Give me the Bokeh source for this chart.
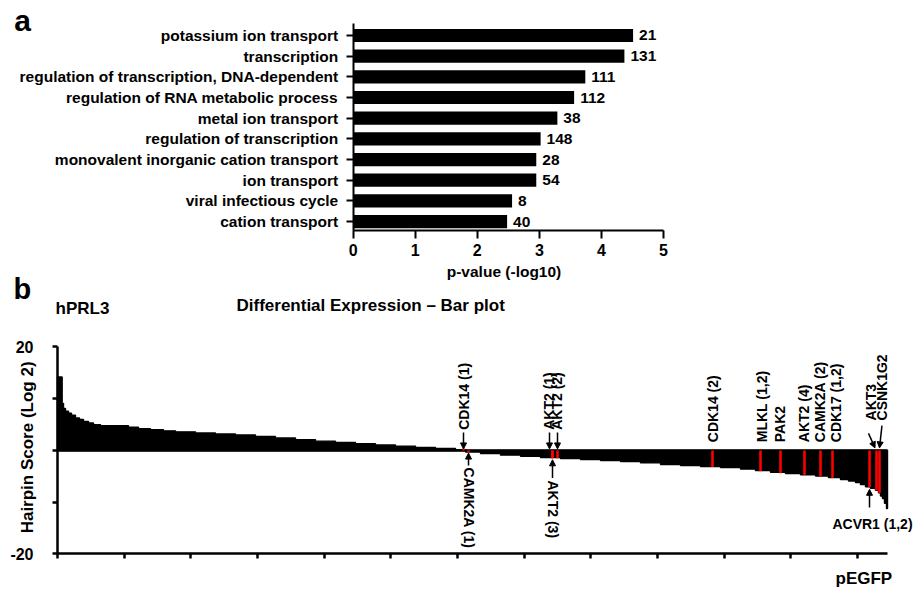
import math
from bokeh.plotting import figure
from bokeh.models import (ColumnDataSource, FixedTicker, Label, Arrow, NormalHead,
                          Range1d, LinearAxis)
from bokeh.embed import file_html
from bokeh.resources import INLINE
from bokeh.core.properties import value

FONT = "Liberation Sans"

# ---------------- Panel a data ----------------
go_terms = [
    "potassium ion transport",
    "transcription",
    "regulation of transcription, DNA-dependent",
    "regulation of RNA metabolic process",
    "metal ion transport",
    "regulation of transcription",
    "monovalent inorganic cation transport",
    "ion transport",
    "viral infectious cycle",
    "cation transport",
]
go_pvalue = [4.51, 4.37, 3.74, 3.56, 3.29, 3.02, 2.95, 2.95, 2.56, 2.48]
go_counts = [21, 131, 111, 112, 38, 148, 28, 54, 8, 40]
pvalue_ticks = [0, 1, 2, 3, 4, 5]

# ---------------- Panel b data ----------------
n_hairpins = 12450
hairpin_rank = [0, 70, 90, 120, 165, 210, 270, 330, 390, 465,
                540, 645, 1065, 1215, 1395, 1590, 1770, 2070, 2370, 2670,
                2970, 3270, 3570, 3870, 4170, 4470, 4770, 5070, 5370, 5670,
                5970, 6120, 6345, 6645, 6945, 7245, 7545, 7845, 8145, 8445,
                8745, 9045, 9345, 9645, 9945, 10245, 10470, 10695, 10920, 11145,
                11370, 11565, 11745, 11865, 11970, 12045, 12120, 12195, 12270, 12315,
                12345, 12375, 12405, 12435]
hairpin_score = [14.2, 9.1, 8.1, 7.6, 7.2, 6.8, 6.3, 6.0, 5.6, 5.3,
                 5.0, 4.8, 4.5, 4.2, 4.0, 3.8, 3.6, 3.4, 3.2, 3.0,
                 2.7, 2.4, 2.1, 1.8, 1.55, 1.3, 1.05, 0.85, 0.6, 0.4,
                 0.15, -0.3, -0.6, -0.9, -1.1, -1.35, -1.55, -1.75, -1.95, -2.15,
                 -2.4, -2.7, -2.9, -3.1, -3.3, -3.6, -3.9, -4.2, -4.45, -4.7,
                 -4.95, -5.25, -5.6, -5.9, -6.2, -6.6, -7.0, -7.3, -7.7, -8.2,
                 -8.8, -9.3, -10.2, -11.2]
rank_ticks = [0, 1000, 2000, 3000, 4000, 5000, 6000, 7000, 8000, 9000, 10000, 11000, 12000]
score_ticks = [-20, -10, 0, 10, 20]
score_tick_labels = {-20: "-20", -10: "", 0: "", 10: "", 20: "20"}

hit_genes = ["CDK14 (1)", "CAMK2A (1)", "AKT2 (1)", "AKT2 (2)", "AKT2 (3)",
             "CDK14 (2)", "MLKL (1,2)", "PAK2", "AKT2 (4)", "CAMK2A (2)",
             "CDK17 (1,2)", "ACVR1 (1,2)", "AKT3", "CSNK1G2"]
hit_rank = [6090, 6165, 7425, 7500, 7425,
            9825, 10545, 10845, 11205, 11445,
            11625, 12180, 12285, 12330]
hit_score = [0.4, -0.4, -1.5, -1.5, -1.5,
             -3.2, -4.0, -4.4, -4.7, -5.0,
             -5.3, -7.1, -7.7, -8.2]


def style_axis(ax, size, width):
    ax.axis_line_color = "black"
    ax.axis_line_width = width
    ax.major_tick_line_color = "black"
    ax.major_tick_line_width = width
    ax.major_tick_in = 0
    ax.minor_tick_line_color = None
    ax.major_label_text_font = FONT
    ax.major_label_text_font_style = "bold"
    ax.major_label_text_font_size = size
    ax.major_label_text_color = "black"


# One canvas; panel b uses the default ranges, panel a uses extra ranges "ax"/"ay".
p = figure(width=919, height=594,
           x_range=Range1d(-855, 12930), y_range=Range1d(-27.83, 86.96),
           x_axis_location=None, y_axis_location=None,
           output_backend="svg", toolbar_location=None, min_border=0)
p.outline_line_color = None
p.grid.visible = False
p.background_fill_color = "white"
p.border_fill_color = "white"
p.extra_x_ranges = {"ax": Range1d(-5.683, 9.125)}
p.extra_y_ranges = {"ay": Range1d(-18.044, 10.693)}
A = dict(x_range_name="ax", y_range_name="ay")

# ================= Panel a =================
a_ylo, a_yhi = -0.435, 9.58
pos = [len(go_terms) - 1 - i for i in range(len(go_terms))]
src_a = ColumnDataSource(dict(y=pos, p=go_pvalue, n=[str(c) for c in go_counts], term=go_terms))
p.hbar(y="y", left=0, right="p", height=0.64, source=src_a, fill_color="black", line_color=None, **A)
p.text(x="p", y="y", text="n", source=src_a, x_offset=6, text_align="left", text_baseline="middle",
       text_font=value(FONT), text_font_style="bold", text_font_size="15.5px", text_color="black", **A)

ya = LinearAxis(fixed_location=0, bounds=(a_ylo, a_yhi), ticker=FixedTicker(ticks=pos), **A)
style_axis(ya, "15.5px", 2)
ya.major_label_overrides = {y: t for y, t in zip(pos, go_terms)}
ya.major_tick_out = 7
ya.major_label_standoff = 8
p.add_layout(ya, "left")

xa = LinearAxis(fixed_location=a_ylo, bounds=(0, 5), ticker=FixedTicker(ticks=pvalue_ticks), **A)
style_axis(xa, "16px", 2)
xa.major_tick_out = 8
xa.major_label_standoff = 5
p.add_layout(xa, "below")

mid = dict(text_font=FONT, text_font_style="bold", text_color="black", text_baseline="middle")
p.add_layout(Label(x=-5.46, y=9.745, text="a", text_font_size="30px", **mid, **A))
p.add_layout(Label(x=2.43, y=-2.42, text="p-value (-log10)", text_font_size="15.5px",
                   text_align="center", **mid, **A))

# ================= Panel b =================
p.segment(x0=[0], x1=[n_hairpins], y0=[0], y1=[0], line_color="black", line_width=2.5)

rank_end = hairpin_rank[1:] + [n_hairpins]
src_b = ColumnDataSource(dict(left=hairpin_rank, right=rank_end, top=hairpin_score))
p.quad(left="left", right="right", bottom=0, top="top", source=src_b,
       fill_color="black", line_color="black", line_width=1.4)

src_hit = ColumnDataSource(dict(x=hit_rank, s=hit_score, g=hit_genes))
p.vbar(x="x", width=38, top=0, bottom="s", source=src_hit, fill_color="#ff0000", line_color=None)

yb = LinearAxis(fixed_location=0, bounds=(-20, 20), ticker=FixedTicker(ticks=score_ticks))
style_axis(yb, "16px", 2.5)
yb.major_label_overrides = score_tick_labels
yb.major_tick_out = 5
yb.major_label_standoff = 19
p.add_layout(yb, "left")

xb = LinearAxis(fixed_location=-20, bounds=(0, n_hairpins), ticker=FixedTicker(ticks=rank_ticks))
style_axis(xb, "16px", 2.5)
xb.major_label_overrides = {t: "" for t in rank_ticks}
xb.major_tick_out = 5
p.add_layout(xb, "below")

# gene labels (annotation layout)
g = dict(zip(hit_genes, hit_rank))
up_text = ["CDK14 (1)", "AKT2 (1)", "AKT2 (2)", "CDK14 (2)", "MLKL (1,2)", "PAK2",
           "AKT2 (4)", "CAMK2A (2)", "CDK17 (1,2)", "AKT3", "CSNK1G2"]
up_x = [g["CDK14 (1)"], g["AKT2 (1)"] - 60, g["AKT2 (2)"] - 15, g["CDK14 (2)"], g["MLKL (1,2)"] + 15,
        g["PAK2"] - 15, g["AKT2 (4)"] - 15, g["CAMK2A (2)"] - 15, g["CDK17 (1,2)"] + 45,
        g["AKT3"] - 90, g["CSNK1G2"] + 30]
up_y = [4.0, 4.0, 4.0, 1.6, 1.6, 1.6, 1.6, 1.6, 1.6, 5.8, 5.8]
src_up = ColumnDataSource(dict(x=up_x, y=up_y, t=up_text))
p.text(x="x", y="y", text="t", source=src_up, angle=math.pi / 2, text_align="left",
       text_baseline="middle", text_font=value(FONT), text_font_style="bold",
       text_font_size="14px", text_color="black")

dn_text = ["CAMK2A (1)", "AKT2 (3)"]
dn_x = [g["CAMK2A (1)"], g["AKT2 (3)"]]
dn_y = [-3.3, -5.8]
src_dn = ColumnDataSource(dict(x=dn_x, y=dn_y, t=dn_text))
p.text(x="x", y="y", text="t", source=src_dn, angle=-math.pi / 2, text_align="left",
       text_baseline="middle", text_font=value(FONT), text_font_style="bold",
       text_font_size="14px", text_color="black")

arrows = ColumnDataSource(dict(
    x0=[g["CDK14 (1)"], g["AKT2 (1)"] - 45, g["AKT2 (2)"], g["CAMK2A (1)"], g["AKT2 (3)"],
        g["ACVR1 (1,2)"], g["AKT3"] - 120, g["CSNK1G2"] + 37],
    y0=[3.5, 3.5, 3.5, -2.9, -5.3, -11.0, 3.3, 4.8],
    x1=[g["CDK14 (1)"], g["AKT2 (1)"] - 45, g["AKT2 (2)"], g["CAMK2A (1)"], g["AKT2 (3)"],
        g["ACVR1 (1,2)"], g["AKT3"] - 23, g["CSNK1G2"]],
    y1=[0.3, 0.3, 0.3, -0.5, -1.8, -7.5, 0.5, 0.5],
))
p.add_layout(Arrow(x_start="x0", y_start="y0", x_end="x1", y_end="y1", source=arrows,
                   line_color="black", line_width=1.5,
                   end=NormalHead(size=6, fill_color="black", line_color="black", line_width=1)))

p.add_layout(Label(x=g["ACVR1 (1,2)"] + 45, y=-14.3, text="ACVR1 (1,2)", text_font_size="14px",
                   text_align="center", **mid))

# headers / titles
p.add_layout(Label(x=-660, y=31.3, text="b", text_font_size="29px", **mid))
p.add_layout(Label(x=-30, y=27.4, text="hPRL3", text_font_size="17px", **mid))
p.add_layout(Label(x=2685, y=28.0, text="Differential Expression \u2013 Bar plot",
                   text_font_size="17px", **mid))
p.add_layout(Label(x=11670, y=-24.7, text="pEGFP", text_font_size="17px", **mid))
p.add_layout(Label(x=-450, y=0.6, text="Hairpin Score (Log 2)", angle=math.pi / 2,
                   text_font_size="17px", text_align="center", **mid))

open("out.html", "w").write(file_html(p, INLINE))
